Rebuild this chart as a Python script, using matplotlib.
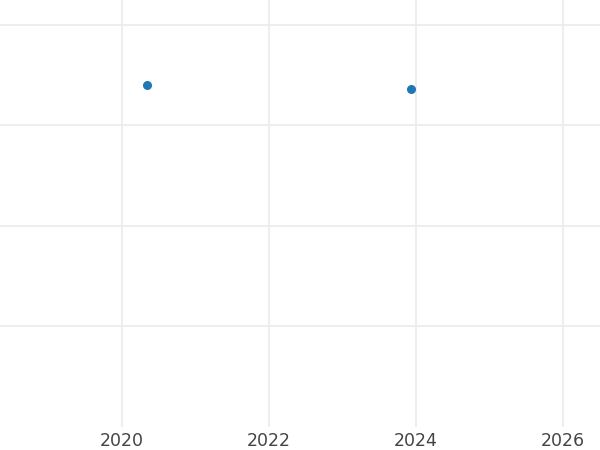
import matplotlib
matplotlib.use("Agg")
import matplotlib.pyplot as plt

years = [2020.34, 2023.93]
values = [2.40, 2.36]
x_ticks = [2020, 2022, 2024, 2026]
y_ticks = [0, 1, 2, 3]

fig = plt.figure(figsize=(6, 4.5), dpi=100)
ax = fig.add_axes([0, 1 - 427 / 450, 1, 427 / 450])

ax.scatter(years, values, s=6.5 ** 2, color='#1f77b4', zorder=3, linewidths=0)

ax.set_xlim(2018.34, 2026.50)
ax.set_ylim(-1.005, 3.25)
ax.set_xticks(x_ticks)
ax.set_xticklabels([str(t) for t in x_ticks])
ax.set_yticks(y_ticks)
ax.set_yticklabels([])
ax.grid(True, color='#ebebeb', linewidth=1.2)
ax.set_axisbelow(True)
ax.tick_params(length=0, labelsize=12.5, labelcolor='#444444', pad=3.5)
ax.tick_params(axis='y', left=False, labelleft=False)
for s in ax.spines.values():
    s.set_visible(False)

fig.savefig('out.png', dpi=100)
